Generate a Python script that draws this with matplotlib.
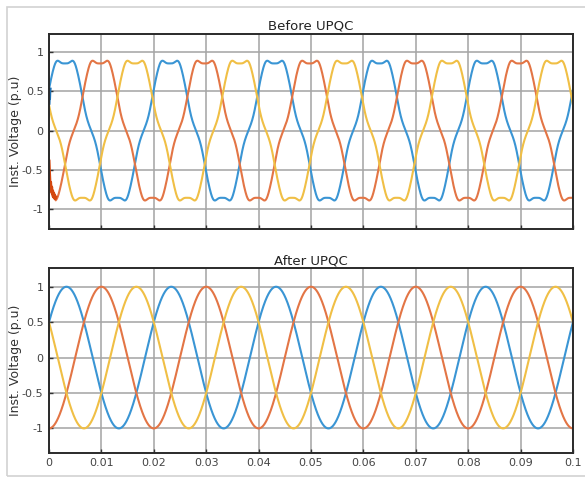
import numpy as np
import matplotlib.pyplot as plt
from matplotlib.patches import Rectangle

# --------------------------------------------------
# Data (three-phase voltages, p.u.)
# --------------------------------------------------
freq_hz = 50
t_start, t_end = 0.0, 0.1

phase_labels = ["Phase A", "Phase B", "Phase C"]
colors = ["#3a95d4", "#e37545", "#f0bf45"]

# before UPQC: distorted supply (fundamental + 5th + small ripple)
before_phases_deg = [35, -85, 155]
before_orders = [1, 5, 7, 11, 13]
before_amps = [0.93, -0.08, 0.0, -0.004, 0.004]

# start-up transients, read point by point
transient_b_t = [0.0, 0.0001, 0.0002, 0.0003, 0.0004, 0.0005, 0.0006,
                 0.0007, 0.0008, 0.0009, 0.0010, 0.0011, 0.0012, 0.0013]
transient_b_v = [-0.39, -0.56, -0.70, -0.66, -0.77, -0.72, -0.80,
                 -0.77, -0.84, -0.80, -0.86, -0.83, -0.87, -0.85]
transient_a_t = [0.0, 0.00005, 0.0001, 0.00015, 0.0002]
transient_a_v = [0.35, 0.44, 0.41, 0.50, 0.53]

# after UPQC: clean sinusoids
after_phases_deg = [30, -90, 150]
after_orders = [1]
after_amps = [1.0]

xticks = [0, 0.01, 0.02, 0.03, 0.04, 0.05, 0.06, 0.07, 0.08, 0.09, 0.1]
xtick_labels = ["0", "0.01", "0.02", "0.03", "0.04", "0.05",
                "0.06", "0.07", "0.08", "0.09", "0.1"]
yticks = [-1, -0.5, 0, 0.5, 1]
ytick_labels = ["-1", "-0.5", "0", "0.5", "1"]


def phase_wave(t, phase_deg, orders, amps):
    theta = 2 * np.pi * freq_hz * t + np.deg2rad(phase_deg)
    v = np.zeros_like(t)
    for h, a in zip(orders, amps):
        v += a * np.sin(h * theta)
    return v


t = np.linspace(t_start, t_end, 4001)

# --------------------------------------------------
# Figure
# --------------------------------------------------
fig = plt.figure(figsize=(5.85, 4.78), dpi=100)
fig.patch.set_facecolor("white")
fig.patches.append(Rectangle((7 / 585, 2 / 478), 1.0, 469 / 478,
                             transform=fig.transFigure, fill=False,
                             edgecolor="#d2d2d2", linewidth=1.2))

ax1 = fig.add_axes([49 / 585, 1 - 228.5 / 478, 524 / 585, 195 / 478])
ax2 = fig.add_axes([49 / 585, 1 - 452.5 / 478, 524 / 585, 184.2 / 478])


def style_axes(ax, ylim):
    ax.set_xlim(t_start, t_end)
    ax.set_ylim(*ylim)
    ax.set_xticks(xticks)
    ax.set_yticks(yticks)
    ax.set_yticklabels(ytick_labels)
    ax.grid(True, color="#a5a5a5", linewidth=1.4, alpha=0.8)
    ax.set_axisbelow(True)
    ax.tick_params(direction="in", length=3, width=1, colors="#333333",
                   labelsize=8, labelcolor="#444444", pad=4)
    for s in ax.spines.values():
        s.set_color("#2a2a2a")
        s.set_linewidth(1.4)
    ax.set_ylabel("Inst. Voltage (p.u)", fontsize=9, color="#333333")
    ax.yaxis.set_label_coords(-27 / 524, 0.5)


# Before UPQC
for k in range(3):
    v = phase_wave(t, before_phases_deg[k], before_orders, before_amps)
    if k == 1:
        mask = t >= transient_b_t[-1]
        ax1.plot(t[mask], v[mask], color=colors[k], linewidth=1.5)
    else:
        ax1.plot(t, v, color=colors[k], linewidth=1.5)
ax1.plot(transient_b_t, transient_b_v, color="#d4470f", linewidth=2.2)
ax1.plot(transient_a_t, transient_a_v, color="#1f70b3", linewidth=2.2)
style_axes(ax1, (-1.25, 1.24))
ax1.set_xticklabels([])
ax1.set_title("Before UPQC", fontsize=9.5, color="#222222", pad=3)

# After UPQC
for k in range(3):
    v = phase_wave(t, after_phases_deg[k], after_orders, after_amps)
    ax2.plot(t, v, color=colors[k], linewidth=1.5)
style_axes(ax2, (-1.34, 1.26))
ax2.set_xticklabels(xtick_labels)
ax2.set_title("After UPQC", fontsize=9.5, color="#222222", pad=3)

fig.savefig("out.png", dpi=100)
